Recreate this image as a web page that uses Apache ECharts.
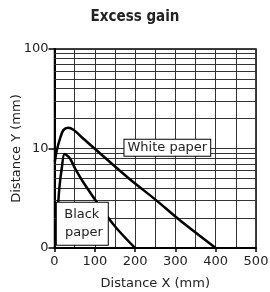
<!DOCTYPE html>
<html>
<head>
<meta charset="utf-8">
<script src="https://cdn.jsdelivr.net/npm/echarts@6/dist/echarts.min.js"></script>
<style>
  html, body { margin: 0; padding: 0; background: #fff; }
  #chart { width: 270px; height: 292px; }
</style>
</head>
<body>
<div id="chart"></div>
<script>
// distance X (mm), distance Y (mm)
const whitePaper = [[1, 7.4], [5, 9.3], [14, 12.7], [22, 15.3], [34, 16.2], [47, 15.4], [71, 12.6], [187, 4.9], [249, 3.1], [311, 1.9], [400, 1]]
const blackPaper = [[7, 2.0], [12, 4.0], [18, 6.3], [25, 8.8], [38, 8.0], [51, 6.3], [71, 4.6], [113, 2.6], [154, 1.58], [200, 1]]
const yMinorLines = [2, 3, 4, 5, 6, 7, 8, 9, 20, 30, 40, 50, 60, 70, 80, 90]
const yTickLabels = { 1: '0', 10: '10', 100: '100' }

const labelFont = "'DejaVu Sans', sans-serif"
const gridColor = '#333'

const chart = echarts.init(document.getElementById('chart'))

chart.setOption({
  animation: false,
  title: {
    text: 'Excess gain',
    left: 'center',
    top: 5,
    textStyle: { fontFamily: "'Liberation Sans Narrow', 'DejaVu Sans Condensed', sans-serif", fontWeight: 'bold', fontSize: 15, color: '#222' },
  },
  grid: {
    left: 54.5, right: 14, top: 49, bottom: 44,
    outerBoundsMode: 'none', containLabel: false,
    show: true, borderColor: '#000', borderWidth: 1.5,
  },
  xAxis: {
    type: 'value',
    min: 0,
    max: 500,
    interval: 100,
    name: 'Distance X (mm)',
    nameLocation: 'middle',
    nameGap: 29,
    nameMoveOverlap: false,
    nameTextStyle: { fontFamily: labelFont, fontSize: 13, color: '#222' },
    axisLine: { onZero: false, lineStyle: { color: '#000', width: 2 } },
    axisTick: { length: 4, lineStyle: { color: '#000', width: 1.5 } },
    axisLabel: { margin: 7, fontFamily: labelFont, fontSize: 13, color: '#222' },
    splitLine: { show: true, lineStyle: { color: gridColor, width: 1 } },
    minorTick: { show: false, splitNumber: 2 },
    minorSplitLine: { show: true, lineStyle: { color: gridColor, width: 1 } },
  },
  yAxis: {
    type: 'log',
    logBase: 10,
    min: 1,
    max: 100,
    name: 'Distance Y (mm)',
    nameLocation: 'middle',
    nameGap: 31,
    nameMoveOverlap: false,
    nameTextStyle: { fontFamily: labelFont, fontSize: 13, color: '#222' },
    axisLine: { lineStyle: { color: '#000', width: 2 } },
    axisTick: { length: 6, lineStyle: { color: '#000', width: 1.5 } },
    axisLabel: { margin: 6, fontFamily: labelFont, fontSize: 13, color: '#222', formatter: v => yTickLabels[Math.round(v)] ?? '' },
    splitLine: { show: true, lineStyle: { color: gridColor, width: 1 } },
  },
  series: [
    {
      name: 'grid',
      type: 'line',
      data: [],
      silent: true,
      markLine: {
        silent: true,
        symbol: 'none',
        label: { show: false },
        lineStyle: { color: gridColor, width: 1, type: 'solid' },
        data: yMinorLines.map(v => ({ yAxis: v })),
      },
    },
    {
      name: 'White paper',
      type: 'line',
      data: whitePaper,
      smooth: 0.3,
      showSymbol: false,
      lineStyle: { color: '#000', width: 2.5 },
      z: 5,
      markPoint: {
        symbol: 'rect',
        symbolSize: 0,
        data: [{ coord: [280, 10.2] }],
        label: {
          show: true,
          formatter: 'White paper',
          fontFamily: labelFont,
          fontSize: 13,
          color: '#222',
          backgroundColor: '#fff',
          borderColor: '#000',
          borderWidth: 1,
          padding: [2, 3, 1, 3],
        },
        z: 10,
      },
    },
    {
      name: 'Black paper',
      type: 'line',
      data: blackPaper,
      smooth: 0.3,
      showSymbol: false,
      lineStyle: { color: '#000', width: 2.5 },
      z: 5,
      markPoint: {
        symbol: 'rect',
        symbolSize: 0,
        data: [{ coord: [69, 1.75] }],
        label: {
          show: true,
          formatter: 'Black\n paper',
          fontFamily: labelFont,
          fontSize: 13,
          lineHeight: 18,
          color: '#222',
          backgroundColor: '#fff',
          borderColor: '#000',
          borderWidth: 1,
          padding: [3, 5, 3, 4],
        },
        z: 10,
      },
    },
  ],
})
</script>
</body>
</html>
